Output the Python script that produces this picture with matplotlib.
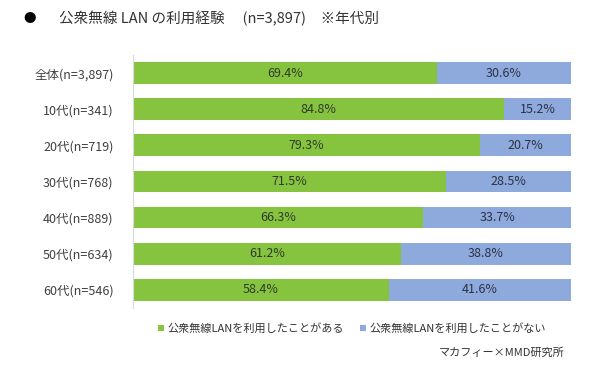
import matplotlib
matplotlib.use("Agg")
import matplotlib.pyplot as plt
import numpy as np

plt.rcParams['font.family'] = ['Noto Sans CJK JP', 'DejaVu Sans']

labels = ['全体(n=3,897)', '10代(n=341)', '20代(n=719)', '30代(n=768)',
          '40代(n=889)', '50代(n=634)', '60代(n=546)']
used = [69.4, 84.8, 79.3, 71.5, 66.3, 61.2, 58.4]
not_used = [30.6, 15.2, 20.7, 28.5, 33.7, 38.8, 41.6]
legend_labels = ['公衆無線LANを利用したことがある', '公衆無線LANを利用したことがない']

green = '#86C440'
blue = '#8EA9DB'

fig = plt.figure(figsize=(5.9, 3.7), dpi=100)
ax = fig.add_axes([0.2254, 0.1676, 0.7424, 0.6838])

y = np.arange(len(labels))
h = 0.6
b1 = ax.barh(y, used, height=h, color=green, label=legend_labels[0])
b2 = ax.barh(y, not_used, left=used, height=h, color=blue, label=legend_labels[1])

for i in range(len(labels)):
    ax.text(used[i] / 2, y[i], '%.1f%%' % used[i], ha='center', va='center',
            fontsize=9, color='#2f3a2a')
    ax.text(used[i] + not_used[i] / 2, y[i], '%.1f%%' % not_used[i],
            ha='center', va='center', fontsize=9, color='#2a3245')

ax.set_xlim(0, 100)
ax.set_ylim(len(labels) - 0.5, -0.5)
ax.set_yticks(y)
ax.set_yticklabels(labels, fontsize=9, color='#404040')
ax.tick_params(axis='y', length=0, pad=14)
ax.set_xticks([])
for s in ['top', 'right', 'bottom']:
    ax.spines[s].set_visible(False)
ax.spines['left'].set_color('#d9d9d9')

fig.text(0.05, 0.95, '●', fontsize=9, va='center', ha='center', color='black')
fig.text(0.10, 0.95, '公衆無線 LAN の利用経験　 (n=3,897)　※年代別', fontsize=10.5,
         va='center', ha='left', color='#333333')

ax.legend(handles=[b1, b2], loc='upper center', bbox_to_anchor=(0.5, -0.02),
          ncol=2, frameon=False, fontsize=8, handlelength=0.5, handleheight=0.5,
          handletextpad=0.3, columnspacing=1.5, labelcolor='#333333')

fig.text(0.957, 0.048, 'マカフィー×MMD研究所', fontsize=8, ha='right', va='center',
         color='#333333')

fig.savefig('out.png', dpi=100)
